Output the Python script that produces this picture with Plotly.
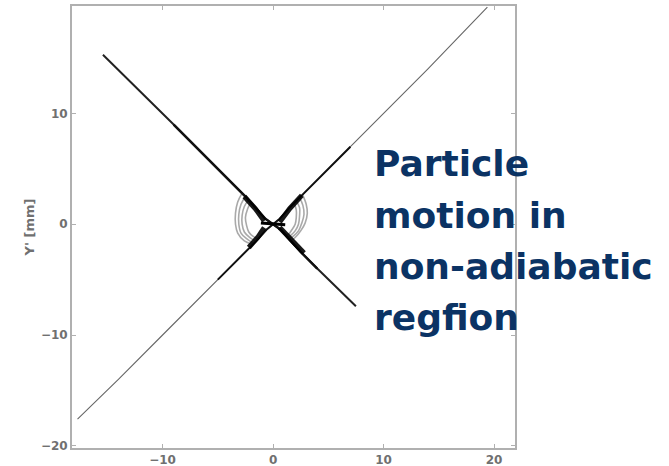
import plotly.graph_objects as go

# Trajectory data (mm)
traj_a_x = [-15.4, -12.0, -9.0, -6.0, -4.0, -2.5, -1.5, -0.7, 0.0, 0.7, 1.5, 2.5, 4.0, 6.0, 7.5]
traj_a_y = [15.3, 12.0, 9.0, 6.0, 4.0, 2.5, 1.4, 0.5, 0.0, -0.5, -1.4, -2.5, -4.0, -5.9, -7.4]

traj_b_x = [-17.7, -14.0, -10.0, -6.0, -3.0, -1.5, -0.6, 0.0, 0.6, 1.5, 3.0, 6.0, 10.0, 14.0, 19.4]
traj_b_y = [-17.6, -14.0, -10.0, -6.0, -3.0, -1.5, -0.5, 0.0, 0.5, 1.5, 3.0, 6.0, 10.0, 14.0, 19.6]

core_b_x = [-5.0, -3.0, -1.5, -0.6, 0.0, 0.6, 1.5, 3.0, 5.0, 7.0]
core_b_y = [-5.0, -3.0, -1.5, -0.5, 0.0, 0.5, 1.5, 3.0, 5.0, 7.0]

core_a_x = [-9.0, -6.0, -4.0, -2.5, -1.5, -0.7, 0.0, 0.7, 1.5, 2.5, 4.0]
core_a_y = [9.0, 6.0, 4.0, 2.5, 1.4, 0.5, 0.0, -0.5, -1.4, -2.5, -4.0]

# dark blobs where the arms meet
blob_left_x = [[-2.6, -1.6, -0.8], [-2.2, -1.4, -0.8]]
blob_left_y = [[2.5, 1.4, 0.3], [-2.1, -1.2, -0.3]]
blob_right_x = [[0.6, 1.5, 2.6], [0.6, 1.5, 2.8]]
blob_right_y = [[0.2, 1.4, 2.6], [-0.3, -1.3, -2.6]]

left_bowls_x = [
    [-2.8, -3.2, -3.4, -3.4, -3.2, -2.6, -1.9],
    [-2.5, -2.9, -3.1, -3.1, -2.9, -2.4, -1.8],
    [-2.2, -2.6, -2.8, -2.8, -2.6, -2.1, -1.6],
    [-2.0, -2.3, -2.5, -2.4, -2.2, -1.8, -1.4],
]
left_bowls_y = [
    [2.8, 2.0, 1.0, 0.0, -0.8, -1.5, -1.8],
    [2.5, 1.8, 0.9, 0.0, -0.8, -1.3, -1.7],
    [2.2, 1.6, 0.8, 0.0, -0.7, -1.2, -1.5],
    [2.0, 1.4, 0.6, -0.1, -0.7, -1.1, -1.3],
]
right_bowls_x = [
    [2.7, 3.0, 3.1, 2.9, 2.5, 2.0, 1.6],
    [2.4, 2.7, 2.8, 2.6, 2.3, 1.8, 1.4],
    [2.1, 2.4, 2.4, 2.3, 2.0, 1.6, 1.3],
    [1.9, 2.1, 2.1, 2.0, 1.7, 1.4, 1.1],
]
right_bowls_y = [
    [2.6, 1.8, 1.0, 0.1, -0.6, -1.2, -1.5],
    [2.4, 1.7, 0.9, 0.1, -0.6, -1.1, -1.4],
    [2.1, 1.5, 0.8, 0.0, -0.6, -1.0, -1.2],
    [1.9, 1.3, 0.6, 0.0, -0.5, -0.9, -1.0],
]
waist_x = [-1.1, -0.5, 0.0, 0.5, 1.1]
waist_y = [0.1, 0.05, 0.0, -0.05, -0.05]

x_ticks = [-10, 0, 10, 20]
y_ticks = [-20, -10, 0, 10]
label_lines = ["Particle", "motion in", "non-adiabatic", "regfion"]

fig = go.Figure()

fig.add_trace(go.Scatter(x=traj_b_x, y=traj_b_y, mode="lines",
                         line=dict(color="#666666", width=1.1)))
fig.add_trace(go.Scatter(x=traj_a_x, y=traj_a_y, mode="lines",
                         line=dict(color="#222222", width=2.0)))
fig.add_trace(go.Scatter(x=core_b_x, y=core_b_y, mode="lines",
                         line=dict(color="#111111", width=2.0)))
fig.add_trace(go.Scatter(x=core_a_x, y=core_a_y, mode="lines",
                         line=dict(color="#111111", width=2.4)))
for bx, by in zip(left_bowls_x + right_bowls_x, left_bowls_y + right_bowls_y):
    fig.add_trace(go.Scatter(x=bx, y=by, mode="lines", line_shape="spline",
                             line=dict(color="rgba(40,40,40,0.4)", width=1.6)))
for bx, by in zip(blob_left_x + blob_right_x, blob_left_y + blob_right_y):
    fig.add_trace(go.Scatter(x=bx, y=by, mode="lines",
                             line=dict(color="rgba(0,0,0,0.9)", width=5)))
fig.add_trace(go.Scatter(x=waist_x, y=waist_y, mode="lines",
                         line=dict(color="#000000", width=3)))

axis_common = dict(
    showgrid=False, zeroline=False, showline=True, linecolor="#b0b0b0",
    linewidth=1.8, mirror="ticks", ticks="inside", ticklen=4,
    tickcolor="#b0b0b0", tickwidth=1, automargin=False,
    tickfont=dict(family="DejaVu Sans", size=12, color="#707070", weight="bold"),
)

fig.update_xaxes(range=[-18.2, 21.9], tickvals=x_ticks, ticklabelstandoff=0,
                 **axis_common)
fig.update_yaxes(range=[-20.2, 19.7], tickvals=y_ticks, **axis_common,
                 title=dict(text="Y' [mm]", standoff=3,
                            font=dict(family="DejaVu Sans", size=13, color="#707070",
                                      weight="bold")))

line_y_px = [186, 238, 289, 340]
for txt, ypx in zip(label_lines, line_y_px):
    fig.add_annotation(
        text=txt, xref="paper", yref="paper",
        x=(372 - 72) / (515 - 72), y=(448 - ypx) / (448 - 6),
        xanchor="left", yanchor="bottom", showarrow=False,
        font=dict(family="DejaVu Sans", size=36, color="#0b3364", weight="bold"),
    )

fig.update_layout(
    width=669, height=466, showlegend=False,
    margin=dict(l=72, r=154, t=6, b=18),
    plot_bgcolor="white", paper_bgcolor="white",
)

fig.write_html("out.html")
